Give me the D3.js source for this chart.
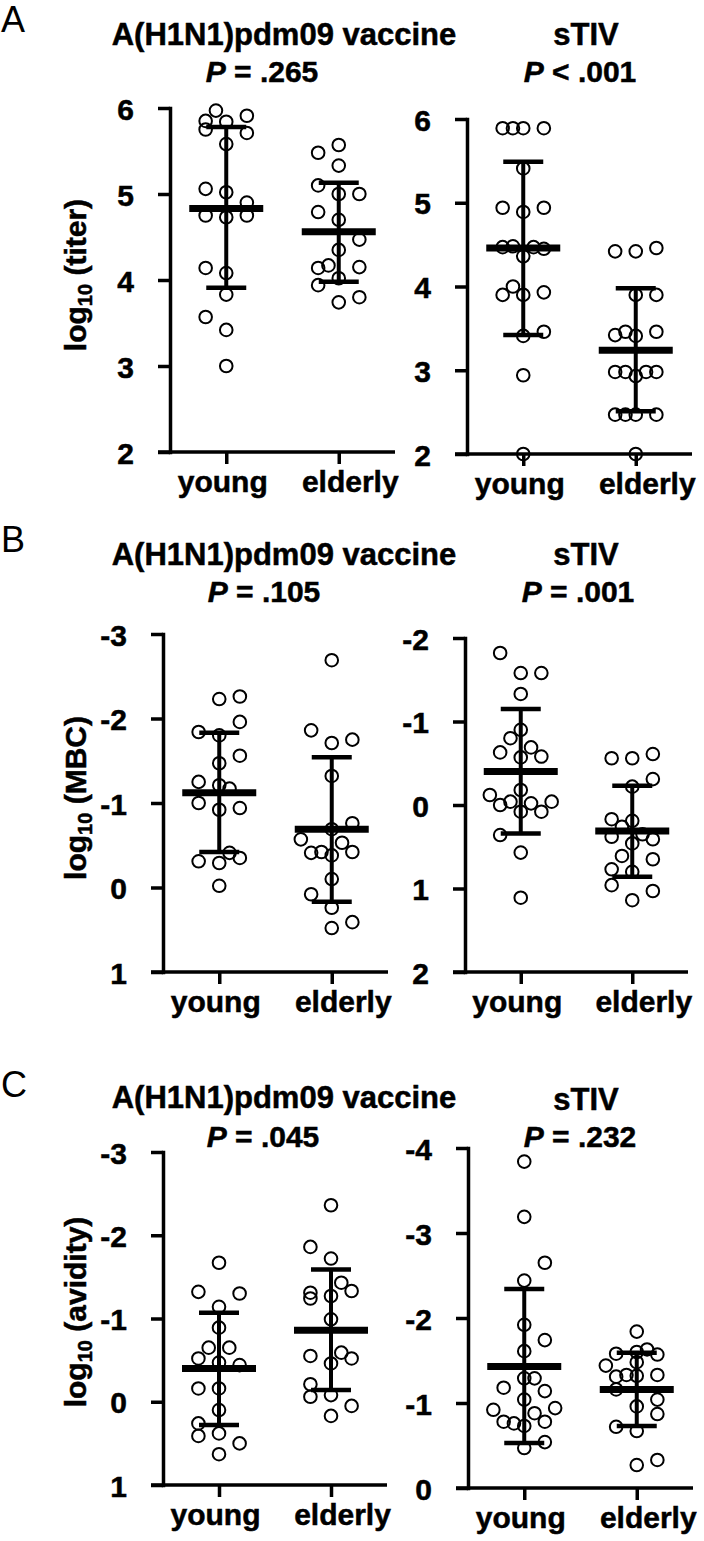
<!DOCTYPE html>
<html><head><meta charset="utf-8">
<script src="https://cdn.jsdelivr.net/npm/d3@7"></script>
<style>body{margin:0;background:#fff}svg{display:block}</style>
</head><body>
<svg id="c" width="704" height="1541"></svg>
<script>
// ---------- DATA ----------
const groups = ["young", "elderly"];

// tick labels, top to bottom
const titerTicks = ["6", "5", "4", "3", "2"];
const mbcH1Ticks = ["-3", "-2", "-1", "0", "1"];
const mbcTIVTicks = ["-2", "-1", "0", "1", "2"];
const avH1Ticks = ["-3", "-2", "-1", "0", "1"];
const avTIVTicks = ["-4", "-3", "-2", "-1", "0"];

// points: [value, jitter column]
const titerH1Young = [[5.97,-1],[5.85,-2],[5.84,0],[5.91,2],[5.75,-2],[5.71,2],[5.58,0],[5.06,-2],[5.02,0],[4.90,2],[4.75,-2],[4.73,0],[4.75,2],[4.14,-2],[4.08,0],[3.83,0],[3.57,-2],[3.42,0],[3.00,0]];
const titerH1Elderly = [[5.57,0],[5.48,-2],[5.33,0],[5.10,-2],[5.00,0],[5.00,2],[4.79,-2],[4.70,0],[4.47,2],[4.35,0],[4.14,-2],[4.17,-1],[4.15,2],[4.02,0],[3.94,-2],[3.74,0],[3.80,2]];
const titerTIVYoung = [[5.89,-2],[5.89,-1],[5.89,0],[5.89,2],[5.41,0],[4.94,-2],[4.89,0],[4.94,2],[4.47,-2],[4.48,-1],[4.36,0],[4.47,1],[4.45,2],[3.90,-2],[4.00,-1],[3.90,0],[3.93,2],[3.41,0],[3.46,2],[2.94,0],[2.00,0]];
const titerTIVElderly = [[4.42,-2],[4.42,0],[4.46,2],[3.90,0],[3.90,2],[3.42,-2],[3.46,-1],[3.41,0],[3.46,2],[2.98,-2],[2.98,-1],[2.93,0],[2.98,1],[2.98,2],[2.47,-2],[2.47,-1],[2.47,0],[2.47,2],[2.00,0]];

const mbcH1Young = [[-2.23,0],[-2.26,2],[-1.96,2],[-1.84,-2],[-1.80,0],[-1.56,2],[-1.47,0],[-1.25,-2],[-1.21,0],[-1.17,1],[-1.00,-2],[-0.92,0],[-0.94,2],[-0.31,-2],[-0.29,0],[-0.41,1],[-0.35,2],[-0.02,0]];
const mbcH1Elderly = [[-2.69,0],[-1.86,-2],[-1.71,0],[-1.75,2],[-1.32,0],[-0.76,2],[-0.69,0],[-0.57,-3],[-0.53,1],[-0.41,-2],[-0.42,-1],[-0.38,0],[-0.42,2],[-0.10,0],[0.08,-2],[0.24,0],[0.41,2],[0.48,0]];
const mbcTIVYoung = [[-1.82,-2],[-1.58,0],[-1.58,2],[-1.33,0],[-0.90,0],[-0.80,-1],[-0.69,1],[-0.63,-2],[-0.57,0],[-0.58,2],[-0.18,0],[-0.12,-3],[0.00,-2],[-0.04,-1],[0.08,0],[-0.02,1],[0.08,2],[-0.04,3],[0.36,-2],[0.57,0],[1.11,0]];
const mbcTIVElderly = [[-0.56,-2],[-0.56,0],[-0.61,2],[-0.31,2],[-0.22,0],[0.17,-2],[0.19,0],[0.38,-2],[0.26,-1],[0.35,1],[0.41,2],[0.46,0],[0.61,-1],[0.65,2],[0.77,-2],[0.80,0],[0.96,-2],[1.03,2],[1.14,0]];

const avH1Young = [[-1.67,0],[-1.32,-2],[-1.30,2],[-1.14,0],[-0.89,0],[-0.65,-1],[-0.65,1],[-0.52,-2],[-0.47,0],[-0.44,2],[-0.16,-2],[-0.16,0],[0.10,0],[0.26,-2],[0.41,-2],[0.38,0],[0.50,2],[0.63,0]];
const avH1Elderly = [[-2.36,0],[-1.86,-2],[-1.72,0],[-1.43,1],[-1.31,-2],[-1.24,-2],[-1.27,0],[-1.33,2],[-0.99,0],[-0.55,-2],[-0.59,1],[-0.52,2],[-0.46,0],[-0.21,-2],[-0.06,-2],[-0.08,0],[0.05,2],[0.17,0]];
const avTIVYoung = [[-3.84,0],[-3.19,0],[-2.65,2],[-2.44,0],[-1.92,0],[-1.74,2],[-1.61,0],[-1.29,0],[-1.29,1],[-1.18,-2],[-1.14,2],[-1.04,0],[-0.92,-3],[-0.94,3],[-0.88,1],[-0.78,-2],[-0.76,-1],[-0.73,0],[-0.78,2],[-0.54,2],[-0.47,0]];
const avTIVElderly = [[-1.84,0],[-1.58,-2],[-1.60,0],[-1.63,1],[-1.57,2],[-1.44,-3],[-1.48,0],[-1.31,-2],[-1.33,-1],[-1.32,0],[-1.33,2],[-1.16,-2],[-1.04,2],[-0.96,0],[-0.87,2],[-0.72,-2],[-0.67,0],[-0.27,0],[-0.33,2]];

// [mean, lower SD end, upper SD end] for young, elderly
const titerH1Stats = [[4.83, 3.91, 5.78], [4.56, 3.98, 5.13]];
const titerTIVStats = [[4.46, 3.42, 5.49], [3.24, 2.51, 3.98]];
const mbcH1Stats = [[-1.12, -1.83, -0.42], [-0.69, -1.54, 0.17]];
const mbcTIVStats = [[-0.40, -1.15, 0.34], [0.31, -0.23, 0.86]];
const avH1Stats = [[-0.40, -1.07, 0.28], [-0.86, -1.59, -0.14]];
const avTIVStats = [[-1.43, -2.34, -0.53], [-1.16, -1.59, -0.73]];

const pSymbols = ["=", "<", "=", "=", "=", "="];
const pValues = [".265", ".001", ".105", ".001", ".045", ".232"];
const vaccines = ["A(H1N1)pdm09 vaccine", "sTIV"];
const yLabels = ["(titer)", "(MBC)", "(avidity)"];
const rowLetters = ["A", "B", "C"];

// ---------- LAYOUT ----------
const FONT = "'Liberation Sans', Arial, Helvetica, sans-serif";
const svg = d3.select("#c");
const COL = 10.3;       // px per jitter column
const SW = 3.5;         // axis stroke
const TS = 0.5;         // text outline to thicken glyphs

function boldText(sel, size) {
  return sel.attr("font-family", FONT).attr("font-size", size).attr("font-weight", "bold")
    .attr("fill", "#000").attr("stroke", "#000").attr("stroke-width", TS);
}

const layout = [
  {data:[titerH1Young, titerH1Elderly], stats:titerH1Stats, ticks:titerTicks, x0:170, x1:395, y0:108, y1:452, tx:284, ty:45, px:262, py:82},
  {data:[titerTIVYoung, titerTIVElderly], stats:titerTIVStats, ticks:titerTicks, x0:467, x1:692, y0:119, y1:454, tx:586, ty:45, px:580, py:82},
  {data:[mbcH1Young, mbcH1Elderly], stats:mbcH1Stats, ticks:mbcH1Ticks, x0:163, x1:388, y0:634, y1:972, tx:284, ty:565, px:264, py:602},
  {data:[mbcTIVYoung, mbcTIVElderly], stats:mbcTIVStats, ticks:mbcTIVTicks, x0:465, x1:688, y0:638, y1:972, tx:586, ty:565, px:578, py:602},
  {data:[avH1Young, avH1Elderly], stats:avH1Stats, ticks:avH1Ticks, x0:163, x1:387, y0:1152, y1:1485, tx:284, ty:1108, px:263, py:1147},
  {data:[avTIVYoung, avTIVElderly], stats:avTIVStats, ticks:avTIVTicks, x0:468, x1:693, y0:1148, y1:1488, tx:586, ty:1110, px:580, py:1147}
];
const rowLayout = [{ly:32, ycy:275}, {ly:552, ycy:798}, {ly:1097, ycy:1312}];

layout.forEach((L, i) => {
  const g = svg.append("g");
  const tv = L.ticks.map(Number);
  const y = d3.scaleLinear().domain([tv[0], tv[tv.length - 1]]).range([L.y0, L.y1]);
  const x = d3.scalePoint().domain(groups).range([L.x0, L.x1]).padding(0.5);

  // x axis
  const xa = g.append("g").attr("transform", `translate(0,${L.y1})`)
    .call(d3.axisBottom(x).tickSize(12).tickSizeOuter(0));
  xa.select(".domain").remove();
  xa.append("line").attr("x1", L.x0 - 12).attr("x2", L.x1).attr("stroke", "#000").attr("stroke-width", SW);
  xa.selectAll(".tick line").attr("stroke-width", SW).attr("stroke", "#000");
  boldText(xa.selectAll(".tick text"), 30).attr("y", 40).attr("dy", null)
    .attr("dx", d => d === "young" ? -4 : 11);

  // y axis
  const ya = g.append("g").attr("transform", `translate(${L.x0},0)`)
    .call(d3.axisLeft(y).tickValues(tv).tickFormat((d, k) => L.ticks[k]).tickSize(12).tickSizeOuter(0));
  ya.select(".domain").attr("stroke-width", SW).attr("stroke", "#000").attr("stroke-linecap", "square");
  ya.selectAll(".tick line").attr("stroke-width", SW).attr("stroke", "#000");
  boldText(ya.selectAll(".tick text"), 30).attr("x", -36).attr("dy", null).attr("y", 11);

  // points
  L.data.forEach((pts, gi) => {
    const cx = x(groups[gi]);
    g.append("g").selectAll("circle").data(pts).join("circle")
      .attr("cx", d => cx + d[1] * COL)
      .attr("cy", d => y(d[0]))
      .attr("r", 6.3)
      .attr("fill", "none").attr("stroke", "#000").attr("stroke-width", 2);
  });

  // error bars (mean ± SD)
  L.stats.forEach((s, gi) => {
    const cx = x(groups[gi]);
    const eb = g.append("g").attr("stroke", "#000");
    eb.append("line").attr("x1", cx).attr("x2", cx).attr("y1", y(s[1])).attr("y2", y(s[2])).attr("stroke-width", 4);
    [s[1], s[2]].forEach(v => eb.append("line").attr("x1", cx - 20).attr("x2", cx + 20).attr("y1", y(v)).attr("y2", y(v)).attr("stroke-width", 4.5));
    eb.append("line").attr("x1", cx - 37).attr("x2", cx + 37).attr("y1", y(s[0])).attr("y2", y(s[0])).attr("stroke-width", 7);
  });

  // titles
  boldText(g.append("text"), 31).attr("x", L.tx).attr("y", L.ty).attr("text-anchor", "middle")
    .text(vaccines[i % 2]);
  const pt = boldText(g.append("text"), 30).attr("x", L.px).attr("y", L.py).attr("text-anchor", "middle");
  pt.append("tspan").attr("font-style", "italic").text("P");
  pt.append("tspan").text(` ${pSymbols[i]} ${pValues[i]}`);
});

// row letters and y labels
rowLayout.forEach((R, r) => {
  svg.append("text").attr("x", 1).attr("y", R.ly)
    .attr("font-family", FONT).attr("font-size", 36).attr("font-weight", "normal")
    .text(rowLetters[r]);
  const t = boldText(svg.append("text"), 30).attr("transform", `translate(86,${R.ycy}) rotate(-90)`)
    .attr("text-anchor", "middle");
  t.append("tspan").text("log");
  t.append("tspan").attr("font-size", 20).attr("dy", 6).text("10");
  t.append("tspan").attr("dy", -6).text(" " + yLabels[r]);
});
</script>
</body></html>
